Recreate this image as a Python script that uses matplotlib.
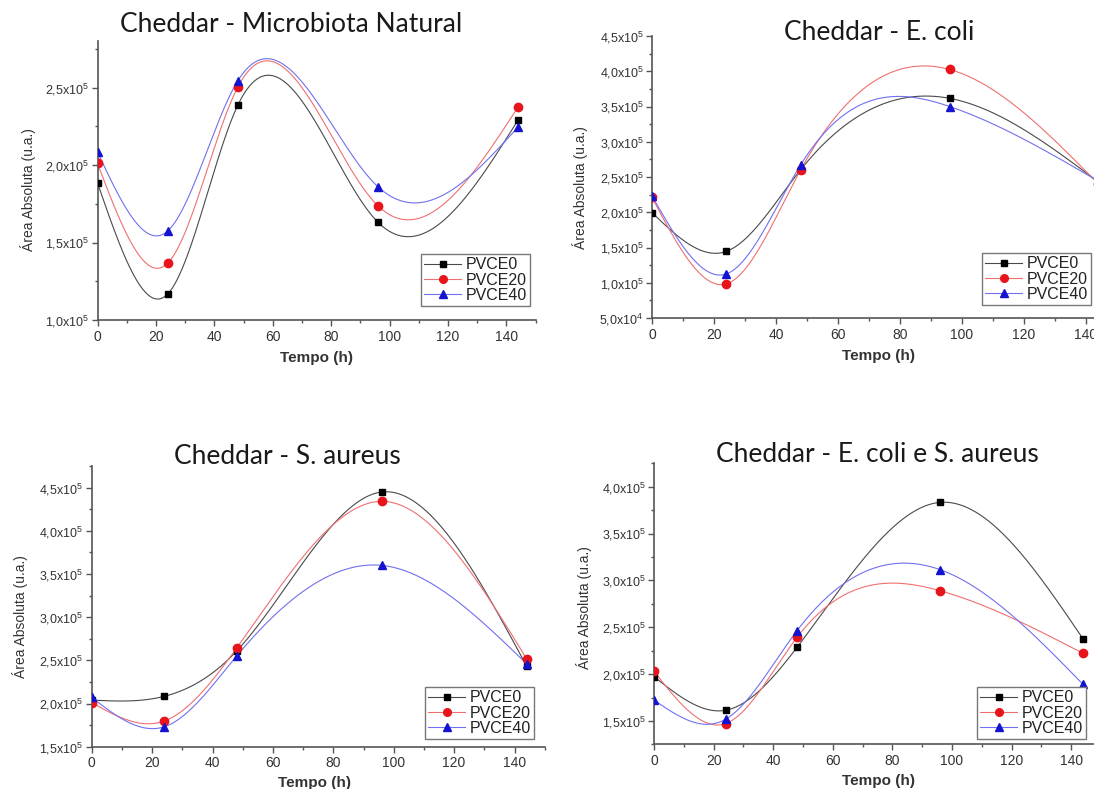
import numpy as np
import matplotlib
matplotlib.use("Agg")
import matplotlib.pyplot as plt
from matplotlib.ticker import MultipleLocator, FuncFormatter

plt.rcParams['font.family'] = ['Liberation Sans', 'DejaVu Sans']
plt.rcParams['mathtext.fontset'] = 'custom'
plt.rcParams['mathtext.rm'] = 'Liberation Sans'

# tempo (h) e series
tempo = [0, 24, 48, 96, 144]
series = ["PVCE0", "PVCE20", "PVCE40"]

# area absoluta, em unidades de 1e5
# Cheddar - Microbiota Natural
nat_pvce0 = [1.885, 1.167, 2.385, 1.632, 2.29]
nat_pvce20 = [2.011, 1.366, 2.502, 1.738, 2.374]
nat_pvce40 = [2.085, 1.574, 2.543, 1.861, 2.245]
# Cheddar - E. coli
eco_pvce0 = [1.995, 1.445, 2.606, 3.616, 2.43]
eco_pvce20 = [2.21, 0.984, 2.606, 4.025, 2.40]
eco_pvce40 = [2.23, 1.125, 2.676, 3.50, 2.44]
# Cheddar - S. aureus
sau_pvce0 = [2.04, 2.083, 2.608, 4.45, 2.434]
sau_pvce20 = [2.01, 1.797, 2.643, 4.342, 2.519]
sau_pvce40 = [2.07, 1.73, 2.55, 3.60, 2.46]
# Cheddar - E. coli e S. aureus
mix_pvce0 = [1.973, 1.614, 2.286, 3.833, 2.375]
mix_pvce20 = [2.03, 1.472, 2.393, 2.89, 2.222]
mix_pvce40 = [1.724, 1.518, 2.464, 3.115, 1.89]

titles = ["Cheddar - Microbiota Natural", "Cheddar - E. coli",
          "Cheddar - S. aureus", "Cheddar - E. coli e S. aureus"]
dados = [[nat_pvce0, nat_pvce20, nat_pvce40],
         [eco_pvce0, eco_pvce20, eco_pvce40],
         [sau_pvce0, sau_pvce20, sau_pvce40],
         [mix_pvce0, mix_pvce20, mix_pvce40]]

W, H = 1094, 789
fig = plt.figure(figsize=(W / 100, H / 100), dpi=100)


def spline(x, y, n=400):
    # natural cubic spline (like Origin's spline connect)
    x = np.asarray(x, float)
    y = np.asarray(y, float)
    h = np.diff(x)
    k = len(x)
    A = np.zeros((k, k))
    b = np.zeros(k)
    A[0, 0] = A[-1, -1] = 1
    for i in range(1, k - 1):
        A[i, i - 1] = h[i - 1]
        A[i, i] = 2 * (h[i - 1] + h[i])
        A[i, i + 1] = h[i]
        b[i] = 3 * ((y[i + 1] - y[i]) / h[i] - (y[i] - y[i - 1]) / h[i - 1])
    c = np.linalg.solve(A, b)
    xs = np.linspace(x[0], x[-1], n)
    idx = np.clip(np.searchsorted(x, xs) - 1, 0, k - 2)
    dx = xs - x[idx]
    bb = (y[1:] - y[:-1]) / h - h * (2 * c[:-1] + c[1:]) / 3
    d = (c[1:] - c[:-1]) / (3 * h)
    return xs, y[idx] + bb[idx] * dx + c[idx] * dx ** 2 + d[idx] * dx ** 3


def sci(v, pos):
    if v <= 0:
        return ""
    e = int(np.floor(np.log10(v) + 1e-9))
    m = ("%.1f" % (v / 10 ** e)).replace(".", ",")
    return m + r"x10$^{%d}$" % e


def px_axes(l, b, r, t):
    return fig.add_axes([l / W, 1 - b / H, (r - l) / W, (b - t) / H])


# axes boxes in pixels (left, bottom, right, top) and y-limits
caixas = [(97.5, 320, 535.5, 41.2), (652, 318, 1117, 36),
          (91.7, 746.7, 544.7, 466.1), (654, 744.4, 1101, 463.3)]
ylims = [(1.0, 2.8), (0.5, 4.5), (1.5, 4.75), (1.25, 4.25)]
title_xy = [(291, 25), (879, 33), (287, 457), (877, 455)]
xlabel_xy = [(317, 358), (878, 356), (315, 783), (879, 781)]
ylabel_xy = [(28, 190), (580, 188), (20, 617), (584, 608)]
legend_xy = [(421, 254), (982, 253), (425, 687), (977, 687)]

line_cols = ["#4a4a4a", "#f07070", "#7070f0"]
mark_cols = ["#000000", "#e8141c", "#1414d0"]
markers = ["s", "o", "^"]
msizes = [5, 6, 6]

for p in range(4):
    ax = px_axes(*caixas[p])
    for s in range(3):
        yv = np.array(dados[p][s]) * 1e5
        xs, ys = spline(tempo, yv)
        ax.plot(xs, ys, color=line_cols[s], lw=0.8, zorder=2)
        ax.plot(tempo, yv, ls="none", marker=markers[s], ms=msizes[s],
                color=mark_cols[s], zorder=3)
    ax.set_xlim(0, 150)
    ax.set_ylim(ylims[p][0] * 1e5, ylims[p][1] * 1e5)
    ax.xaxis.set_major_locator(MultipleLocator(20))
    ax.xaxis.set_minor_locator(MultipleLocator(10))
    ax.yaxis.set_major_locator(MultipleLocator(0.5e5))
    ax.yaxis.set_minor_locator(MultipleLocator(0.25e5))
    ax.yaxis.set_major_formatter(FuncFormatter(sci))
    for sp in ["top", "right"]:
        ax.spines[sp].set_visible(False)
    for sp in ["left", "bottom"]:
        ax.spines[sp].set_color("#555555")
        ax.spines[sp].set_linewidth(1.2)
    ax.tick_params(which="major", direction="out", length=4, width=1,
                   color="#555555", labelsize=10, labelcolor="#333333", pad=3)
    ax.tick_params(which="minor", direction="out", length=2.5, width=1,
                   color="#555555")
    ax.tick_params(axis="y", labelsize=9, pad=2)

    # legend
    hs = [plt.Line2D([], [], color=line_cols[s], lw=0.8, marker=markers[s],
                     ms=msizes[s] - 0.5, mfc=mark_cols[s], mec=mark_cols[s])
          for s in range(3)]
    lx, ly = legend_xy[p]
    leg = ax.legend(hs, series, loc="upper left",
                    bbox_to_anchor=(lx / W, 1 - ly / H),
                    bbox_transform=fig.transFigure, borderaxespad=0,
                    fontsize=11.5, handlelength=2.3, handletextpad=0.3,
                    labelspacing=0.02, borderpad=0.2, fancybox=False,
                    framealpha=1)
    leg.get_frame().set_edgecolor("#777777")
    leg.get_frame().set_linewidth(1)
    for t in leg.get_texts():
        t.set_color("#222222")

    tx, ty = title_xy[p]
    fig.text(tx / W, 1 - ty / H, titles[p], ha="center", va="center",
             fontsize=19, family=["Lato", "DejaVu Sans"], color="#1a1a1a")
    xx, xy = xlabel_xy[p]
    fig.text(xx / W, 1 - xy / H, "Tempo (h)", ha="center", va="center",
             fontsize=11, fontweight="bold", color="#333333")
    yx, yy = ylabel_xy[p]
    fig.text(yx / W, 1 - yy / H, "Área Absoluta (u.a.)", ha="center",
             va="center", rotation=90, fontsize=10, color="#333333")

fig.savefig("out.png", dpi=100)
